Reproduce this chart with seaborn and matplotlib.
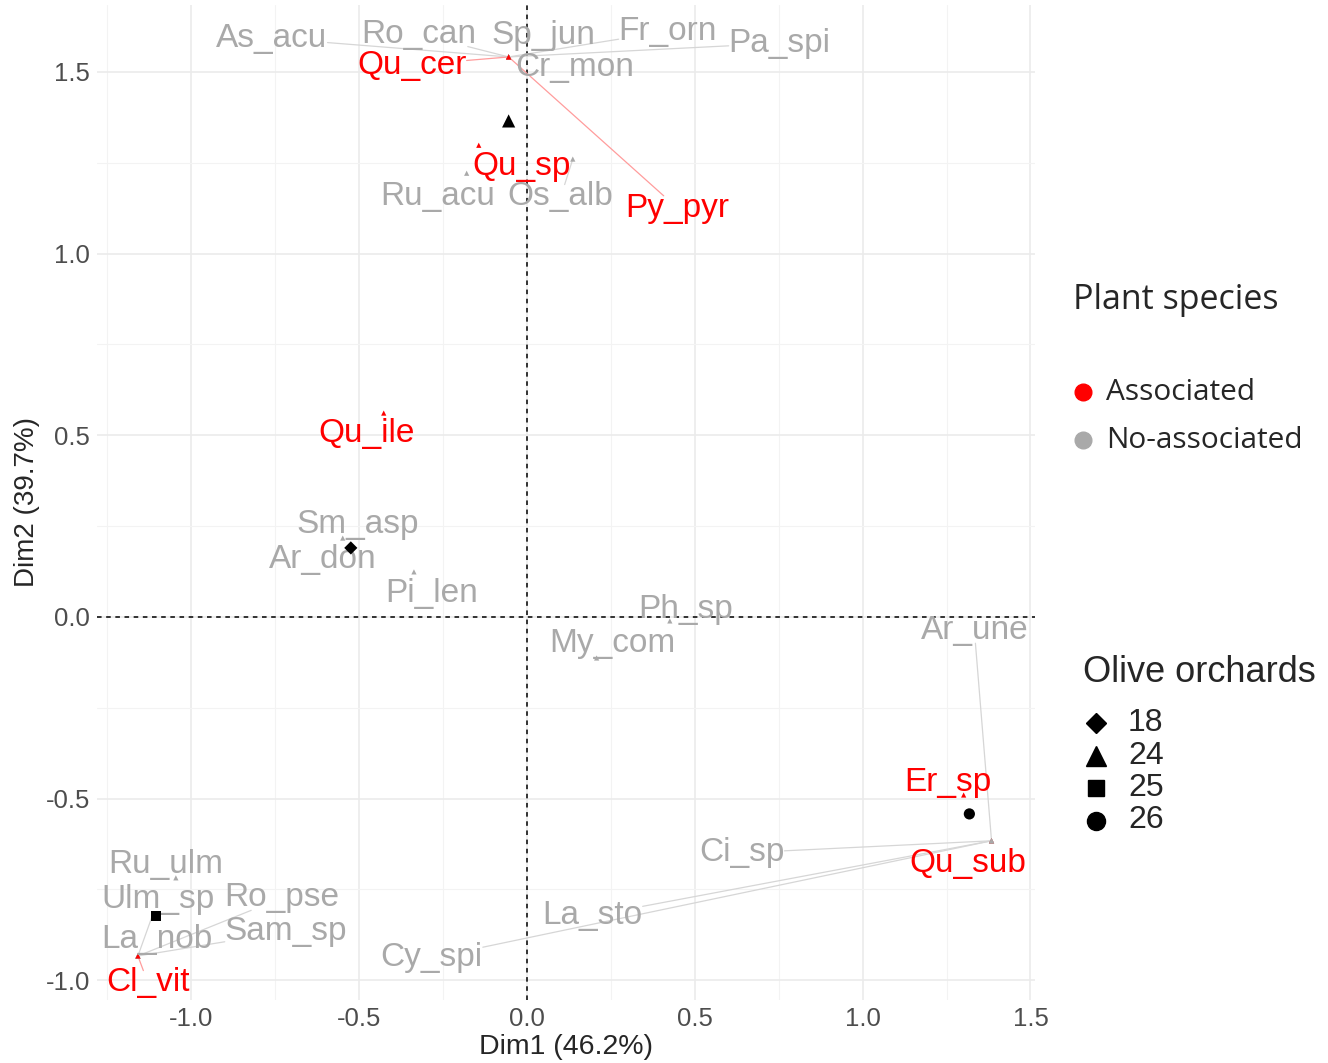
import numpy as np
import pandas as pd
import seaborn as sb
import matplotlib.pyplot as plt
import matplotlib.transforms as mtrans
from matplotlib.lines import Line2D

# species coordinates (CA biplot)
species = ["As_acu", "Ro_can", "Sp_jun", "Fr_orn", "Pa_spi", "Qu_cer", "Cr_mon", "Py_pyr",
           "Qu_sp", "Ru_acu", "Os_alb", "Qu_ile", "Sm_asp", "Ar_don", "Pi_len", "Ph_sp",
           "My_com", "Ar_une", "Er_sp", "Ci_sp", "Qu_sub", "La_sto", "Cy_spi", "Ru_ulm",
           "Ulm_sp", "Ro_pse", "Sam_sp", "La_nob", "Cl_vit"]
dim1 = [-0.054, -0.054, -0.054, -0.054, -0.054, -0.054, -0.054, -0.054,
        -0.143, -0.179, 0.137, -0.426, -0.548, -0.53, -0.336, 0.426,
        0.208, 1.384, 1.301, 1.384, 1.384, 1.384, 1.384, -1.045,
        -1.158, -1.158, -1.158, -1.158, -1.158]
dim2 = [1.541, 1.541, 1.541, 1.541, 1.541, 1.541, 1.541, 1.541,
        1.298, 1.221, 1.260, 0.561, 0.217, 0.19, 0.124, -0.011,
        -0.113, -0.616, -0.490, -0.616, -0.616, -0.616, -0.616, -0.718,
        -0.933, -0.933, -0.933, -0.933, -0.933]
associated = ["Qu_cer", "Py_pyr", "Qu_sp", "Qu_ile", "Er_sp", "Qu_sub", "Cl_vit"]

# repelled label positions
label_x = [-0.759, -0.321, 0.048, 0.420, 0.753, -0.342, 0.143, 0.449,
           -0.015, -0.265, 0.101, -0.476, -0.503, -0.607, -0.283, 0.473,
           0.256, 1.333, 1.253, 0.640, 1.313, 0.196, -0.283, -1.074,
           -1.098, -0.729, -0.717, -1.101, -1.128]
label_y = [1.601, 1.612, 1.609, 1.620, 1.587, 1.527, 1.521, 1.133,
           1.249, 1.166, 1.164, 0.512, 0.264, 0.165, 0.072, 0.030,
           -0.066, -0.030, -0.446, -0.641, -0.671, -0.814, -0.930, -0.674,
           -0.770, -0.765, -0.858, -0.880, -0.999]

# olive orchards
orchards = ["18", "24", "25", "26"]
orch_x = [-0.524, -0.054, -1.104, 1.318]
orch_y = [0.19, 1.365, -0.823, -0.542]

oSp = pd.DataFrame({"name": species, "Dim1": dim1, "Dim2": dim2,
                    "lx": label_x, "ly": label_y})
oSp["group"] = np.where(oSp["name"].isin(associated), "Associated", "No-associated")
oOr = pd.DataFrame({"orchard": orchards, "Dim1": orch_x, "Dim2": orch_y})

cols = {"Associated": "#ff0000", "No-associated": "#a9a9a9"}
segcols = {"Associated": "#ff9c9c", "No-associated": "#d6d6d6"}
marks = {"18": "D", "24": "^", "25": "s", "26": "o"}
msize = {"18": 45, "24": 90, "25": 55, "26": 65}

sb.set_style("white")
plt.rcParams["font.family"] = ["Liberation Sans", "DejaVu Sans"]
plt.rcParams["axes.unicode_minus"] = False

fig = plt.figure(figsize=(13.28, 10.63), dpi=100)
ax = fig.add_axes([0.073, 0.0593, 0.706, 0.936])

ax.set_xlim(-1.28, 1.512)
ax.set_ylim(-1.054, 1.684)

# grid like theme_minimal
ax.set_xticks([-1.0, -0.5, 0.0, 0.5, 1.0, 1.5])
ax.set_yticks([-1.0, -0.5, 0.0, 0.5, 1.0, 1.5])
ax.set_xticks([-1.25, -0.75, -0.25, 0.25, 0.75, 1.25], minor=True)
ax.set_yticks([-0.75, -0.25, 0.25, 0.75, 1.25], minor=True)
ax.grid(True, which="major", color="#ebebeb", lw=1.2)
ax.grid(True, which="minor", color="#f3f3f3", lw=0.8)
ax.set_axisbelow(True)
for s in ax.spines.values():
    s.set_visible(False)
ax.tick_params(which="major", length=3, width=0.8, color="#333333",
               labelsize=18.5, labelcolor="#4d4d4d", pad=2)
ax.tick_params(which="minor", length=0)

ax.axhline(0, color="black", lw=1.1, ls=(0, (3, 3)), zorder=1)
ax.axvline(0, color="black", lw=1.1, ls=(0, (3, 3)), zorder=1)

# species points
sb.scatterplot(data=oSp, x="Dim1", y="Dim2", hue="group", palette=cols,
               marker="^", s=14, linewidth=0, legend=False, ax=ax, zorder=3)

# labels (nudged 3 px down to sit like ggrepel text)
oShift = ax.transData + mtrans.ScaledTranslation(0, -3 / 100, fig.dpi_scale_trans)
oTexts = []
for _, r in oSp.iterrows():
    t = ax.text(r["lx"], r["ly"], r["name"], color=cols[r["group"]], fontsize=24,
                ha="center", va="center", zorder=4, transform=oShift)
    oTexts.append((t, r))

ax.set_xlabel("Dim1 (46.2%)", fontsize=20.5, labelpad=2)
ax.set_ylabel("Dim2 (39.7%)", fontsize=20, labelpad=4)

# segments from point to label box (ggrepel style)
fig.canvas.draw()
oRend = fig.canvas.get_renderer()
oInv = ax.transData.inverted()
for t, r in oTexts:
    bb = t.get_window_extent(oRend).expanded(1.0, 0.8)
    p = ax.transData.transform((r["Dim1"], r["Dim2"]))
    c = np.array([(bb.x0 + bb.x1) / 2, (bb.y0 + bb.y1) / 2])
    # skip short segments: distance from point to nearest box edge
    q = np.array([np.clip(p[0], bb.x0, bb.x1), np.clip(p[1], bb.y0, bb.y1)])
    if np.hypot(*(p - q)) < 13:
        continue
    d = p - c
    hw, hh = bb.width / 2, bb.height / 2
    sc = min(hw / abs(d[0]) if d[0] != 0 else np.inf,
             hh / abs(d[1]) if d[1] != 0 else np.inf)
    e = c + d * sc
    a, b = oInv.transform(p), oInv.transform(e)
    ax.plot([a[0], b[0]], [a[1], b[1]], color=segcols[r["group"]], lw=0.9, zorder=2)

# orchard points
sb.scatterplot(data=oOr, x="Dim1", y="Dim2", style="orchard", markers=marks,
               size="orchard", sizes=msize, color="black", linewidth=0,
               legend=False, ax=ax, zorder=5)

# legend: plant species
fig.text(0.808, 1 - 300 / 1063, "Plant species", fontsize=24.5,
         family=["Open Sans", "DejaVu Sans"], va="center", ha="left")
for i, g in enumerate(["Associated", "No-associated"]):
    yy = 1 - (392 + 48 * i) / 1063
    fig.add_artist(Line2D([0.8155], [yy], marker="o", ms=12, color=cols[g], lw=0,
                          transform=fig.transFigure))
    fig.text(0.833, yy, g, fontsize=21.5, family=["Open Sans", "DejaVu Sans"],
             va="center", ha="left")

# legend: olive orchards
fig.text(0.8155, 1 - 673 / 1063, "Olive orchards", fontsize=26, va="center", ha="left")
msz = {"18": 10, "24": 15, "25": 12, "26": 13}
for i, o in enumerate(orchards):
    yy = 1 - (723 + 32.5 * i) / 1063
    fig.add_artist(Line2D([1096 / 1328], [yy], marker=marks[o], ms=msz[o], color="black",
                          lw=0, transform=fig.transFigure))
    fig.text(1128 / 1328, yy, o, fontsize=23, va="center", ha="left")

fig.savefig("out.png", dpi=100)
